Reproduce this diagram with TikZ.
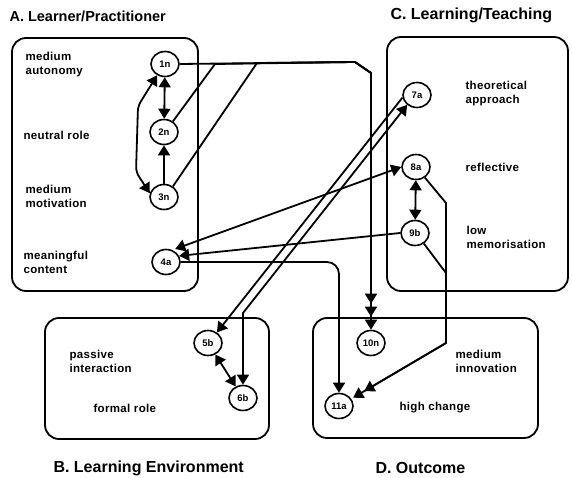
\documentclass[tikz,border=0pt]{standalone}
\usepackage{fontspec}
\setmainfont{Liberation Sans}
\newfontfamily\labfont[LetterSpace=3]{Liberation Sans}
\usetikzlibrary{arrows.meta,calc,shapes.geometric}

\begin{document}
\begin{tikzpicture}[x=1pt,y=-1pt,
  panel/.style={draw, line width=1.8pt, rounded corners=14pt},
  state/.style={draw, ellipse, line width=1.6pt, minimum width=28pt, minimum height=25pt,
    inner sep=0pt, font=\fontsize{9.5}{9.5}\selectfont\bfseries},
  lab/.style={anchor=west, align=left, font=\fontsize{11.5}{14}\selectfont\labfont\bfseries},
  heading/.style={anchor=west, font=\fontsize{16}{16}\selectfont\bfseries},
  tip/.tip={Triangle[length=10pt,width=12pt]},
  link/.style={line width=1.8pt, -tip},
  dlink/.style={line width=1.8pt, tip-tip},
  feed/.style={line width=1.8pt},
]
\useasboundingbox (0,0) rectangle (572,478);

% panels
\draw[panel] (12,38) rectangle (198,291);
\draw[panel] (387,37) rectangle (568,291);
\draw[panel] (45,318) rectangle (269,439);
\draw[panel] (313,318) rectangle (538,438);

% headings
\node[heading, font=\fontsize{14.5}{14.5}\selectfont\bfseries] (hA) at (6,16) {A. Learner/Practitioner};
\node[heading] (hC) at (387,15) {C. Learning/Teaching};
\node[heading] (hB) at (50,468) {B. Learning Environment};
\node[heading] (hD) at (372,468) {D. Outcome};

% A: learner / practitioner
\node[state] (n1) at (165,64) {1n};
\node[state] (n2) at (164,132) {2n};
\node[state] (n3) at (164,197) {3n};
\node[state] (n4) at (166,262) {4a};
\node[lab] (l1) at (22,65) {medium\\autonomy};
\node[lab] (l2) at (20,135) {neutral role};
\node[lab] (l3) at (22,196) {medium\\motivation};
\node[lab] (l4) at (20,262) {meaningful\\content};

% C: learning / teaching
\node[state] (n7) at (417,95) {7a};
\node[state] (n8) at (416,167) {8a};
\node[state] (n9) at (415,233) {9b};
\node[lab] (l7) at (462,94) {theoretical\\approach};
\node[lab] (l8) at (462,167) {reflective};
\node[lab] (l9) at (463,237) {low\\memorisation};

% B: learning environment
\node[state] (n5) at (208,343) {5b};
\node[state] (n6) at (243,398) {6b};
\node[lab] (l5) at (66,361) {passive\\interaction};
\node[lab] (l6) at (90,408) {formal role};

% D: outcome
\node[state] (n10) at (371,343) {10n};
\node[state] (n11) at (339,406) {11a};
\node[lab] (l10) at (452,361) {medium\\innovation};
\node[lab] (l11) at (396,408) {high change};

% routing points
\coordinate (r1) at (355,62);
\coordinate (r2) at (371,73);
\coordinate (j2) at (215,64);
\coordinate (j3) at (257,63);
\coordinate (b6) at (243,313);
\coordinate (k8) at (446,203);
\coordinate (k9) at (446,273);
\coordinate (kd) at (446,343);

% links inside A
\draw[dlink] (n1) -- (n2);
\draw[link] (n3) -- (n2);
\draw[dlink, rounded corners=5pt] (n1.235) -- (138,106) -- (136,172) -- (n3.165);

% 1n, 2n and 3n -> 10n along one shared trunk, each with its own head
\draw[link] (n1.east) -- (r1) -- (r2) -- (n10.north);
\draw[link, shorten >=13pt] (n2.50) -- (j2) -- (r1) -- (r2) -- (n10.north);
\draw[link, shorten >=26pt] (n3.50) -- (j3) -- (r1) -- (r2) -- (n10.north);

% links to and from 4a
\draw[dlink, shorten >=3pt] (n8.west) -- (n4.62);
\draw[link] (n9.west) -- (n4.25);
\draw[link, rounded corners=12pt] (n4.east) -- (n4.east -| n11.north) -- (n11.north);

% C -> B
\draw[link] (n7.190) -- (n5.50);
\draw[dlink] (n7.225) -- (b6) -- (n6.north);

% inside C; 8a and 9b -> 11a along one shared trunk
\draw[dlink] (n8) -- (n9);
\draw[link, shorten >=2pt] (n8.-50) -- (k8) -- (kd) -- (n11);
\draw[link, shorten >=15pt] (n9.-50) -- (k9) -- (kd) -- (n11);

% inside B
\draw[dlink] (n5) -- (n6);
\end{tikzpicture}
\end{document}
